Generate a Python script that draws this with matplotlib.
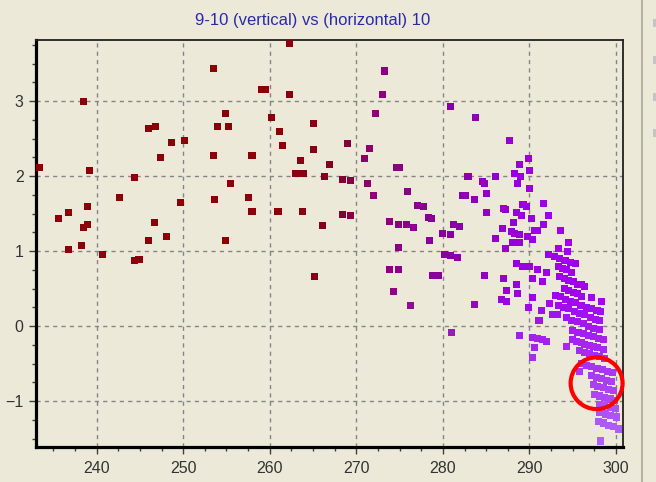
import matplotlib
matplotlib.use("Agg")
import matplotlib.pyplot as plt
from matplotlib.patches import Ellipse, Rectangle
from matplotlib.lines import Line2D
from matplotlib.ticker import MultipleLocator
import numpy as np

plt.rcParams['font.family'] = ['Liberation Sans', 'DejaVu Sans']
plt.rcParams['lines.scale_dashes'] = False

# dark red cluster (left part)
red_x = [233.45, 238.45, 239.15, 235.6, 236.8, 239.0, 238.45, 239.0, 238.3, 236.8,
         240.65, 244.35, 244.9, 244.35, 242.6, 246.0, 246.8, 248.6, 247.4, 250.2,
         249.65, 246.65, 248.1, 245.95, 253.45, 253.45, 253.65, 254.0, 255.25, 254.9,
         262.32, 259.0, 259.5, 262.3, 260.25, 261.1, 261.5, 265.05, 257.95, 265.05,
         263.6, 266.85, 262.95, 263.45, 263.9, 266.3, 268.4, 269.35, 255.45, 257.55,
         257.95, 260.95, 263.8, 266.1, 268.4, 269.35, 254.9, 265.2]
red_y = [2.12, 2.99, 2.07, 1.44, 1.51, 1.59, 1.32, 1.35, 1.07, 1.02,
         0.95, 0.87, 0.89, 1.98, 1.71, 2.64, 2.66, 2.45, 2.25, 2.47,
         1.65, 1.38, 1.20, 1.14, 3.43, 2.27, 1.69, 2.66, 2.66, 2.84,
         3.77, 3.15, 3.15, 3.09, 2.78, 2.60, 2.41, 2.70, 2.27, 2.35,
         2.21, 2.16, 2.04, 2.04, 2.04, 2.00, 1.96, 1.94, 1.90, 1.71,
         1.53, 1.53, 1.53, 1.34, 1.49, 1.47, 1.14, 0.66]

# magenta cluster (middle)
mag_x = [273.3, 273.05, 272.2, 269.0, 271.5, 270.95, 274.7, 275.0, 271.3, 272.0,
         275.95, 277.1, 277.8, 273.8, 274.85, 275.75, 276.6, 274.85, 273.8, 274.9,
         274.3, 276.3, 278.3, 278.7, 278.4, 279.9, 280.9, 281.25, 281.95, 280.91,
         280.2, 280.9, 281.65, 278.85, 279.45, 280.95]
mag_y = [3.40, 3.09, 2.83, 2.43, 2.37, 2.23, 2.12, 2.12, 1.90, 1.74,
         1.79, 1.61, 1.59, 1.39, 1.36, 1.35, 1.32, 1.05, 0.76, 0.76,
         0.46, 0.27, 1.45, 1.43, 1.14, 1.24, 1.22, 1.35, 1.33, 2.93,
         0.95, 0.94, 0.91, 0.68, 0.68, -0.08]

# violet cluster (right, upper)
vio_x = [283.8, 287.7, 289.85, 288.8, 290.05, 288.3, 288.95, 288.6, 290.05, 282.9,
         284.55, 284.85, 286.1, 285.05, 282.3, 282.6, 283.6, 285.05, 287.0, 287.25,
         288.45, 289.1, 289.25, 289.65, 290.2, 288.2, 291.65, 292.2, 291.65, 286.85,
         286.1, 287.9, 288.3, 288.8, 288.05, 288.8, 289.8, 290.35, 290.6, 290.95,
         293.6, 294.5, 293.3, 287.2, 294.35,
         292.2, 292.9, 293.5, 294.1, 294.7, 295.3,
         293.3, 293.8, 294.3, 294.9,
         288.55, 289.25, 290.05, 290.95, 291.95, 290.4, 291.5,
         284.85, 287.0, 288.45, 287.35, 288.6, 286.8, 287.35, 283.65,
         290.35, 289.9, 291.4, 291.1, 292.35, 292.7, 293.2,
         293.5, 294.0, 294.5, 295.05, 295.5, 296.0, 296.4,
         294.0, 294.5, 295.05, 295.5, 296.0,
         297.2, 298.3,
         293.05, 293.6, 294.2, 294.75, 295.35, 295.95, 296.6, 297.2, 297.8, 298.2,
         293.35, 293.9, 294.5, 295.2, 295.8, 296.4, 297.05, 297.65, 298.1,
         294.3, 294.9, 295.5, 296.2, 296.8, 297.4, 298.1,
         288.8, 290.35, 290.9, 291.5, 291.95, 290.6, 290.35, 294.3]
vio_y = [2.78, 2.47, 2.23, 2.15, 2.08, 2.04, 2.00, 1.90, 1.83, 2.00,
         1.93, 1.90, 2.00, 1.77, 1.74, 1.74, 1.69, 1.51, 1.57, 1.55,
         1.51, 1.47, 1.62, 1.59, 1.43, 1.38, 1.63, 1.47, 1.36, 1.30,
         1.17, 1.26, 1.24, 1.22, 1.12, 1.11, 1.19, 1.16, 1.28, 1.27,
         1.28, 1.12, 1.04, 1.03, 0.99,
         0.95, 0.93, 0.90, 0.88, 0.85, 0.83,
         0.79, 0.77, 0.75, 0.72,
         0.83, 0.80, 0.79, 0.75, 0.71, 0.64, 0.60,
         0.68, 0.63, 0.56, 0.47, 0.44, 0.36, 0.33, 0.29,
         0.38, 0.25, 0.21, 0.08, 0.30, 0.15, 0.15,
         0.66, 0.63, 0.61, 0.59, 0.56, 0.55, 0.53,
         0.50, 0.47, 0.45, 0.43, 0.40,
         0.38, 0.33,
         0.41, 0.39, 0.36, 0.33, 0.31, 0.28, 0.25, 0.23, 0.21, 0.19,
         0.28, 0.25, 0.23, 0.20, 0.17, 0.15, 0.12, 0.09, 0.08,
         0.12, 0.08, 0.06, 0.03, 0.00, -0.03, -0.04,
         -0.12, -0.15, -0.17, -0.18, -0.20, -0.28, -0.42, -0.27]

# lower band of light purple rows (bottom right)
band_x = [295.0, 295.6, 296.2, 296.8, 297.4, 298.0, 298.5,
          294.95, 295.4, 296.0, 296.4, 296.9, 297.4, 297.9, 298.5,
          295.8, 296.4, 296.95, 297.55, 298.1, 298.7,
          296.0, 296.6, 297.2, 297.8, 298.4, 299.0, 299.6, 295.8,
          297.15, 297.75, 298.3, 298.9, 299.45,
          297.35, 297.9, 298.5, 299.1, 299.65,
          297.55, 298.1, 298.7, 299.3, 299.85,
          298.05, 298.7, 299.35, 299.95,
          298.1, 298.75, 299.4, 300.0,
          297.95, 298.5, 299.1, 299.7, 300.25,
          298.2]
band_y = [-0.06, -0.08, -0.10, -0.12, -0.14, -0.16, -0.18,
          -0.18, -0.20, -0.22, -0.24, -0.26, -0.27, -0.29, -0.31,
          -0.33, -0.35, -0.37, -0.39, -0.41, -0.43,
          -0.50, -0.52, -0.54, -0.56, -0.58, -0.60, -0.62, -0.61,
          -0.66, -0.68, -0.70, -0.72, -0.74,
          -0.78, -0.80, -0.82, -0.84, -0.86,
          -0.91, -0.93, -0.95, -0.97, -0.99,
          -1.04, -1.06, -1.08, -1.10,
          -1.15, -1.17, -1.19, -1.21,
          -1.27, -1.29, -1.32, -1.34, -1.37,
          -1.53]

x = np.array(red_x + mag_x + vio_x + band_x)
y = np.array(red_y + mag_y + vio_y + band_y)

# colour drifts from dark red to violet with x, and gets lighter lower down
anchor_x = [262, 268, 272, 280, 287, 293]
anchor_r = [140, 130, 145, 135, 150, 160]
anchor_b = [10, 40, 120, 155, 210, 238]
r = np.interp(x, anchor_x, anchor_r)
g = np.zeros_like(x)
b = np.interp(x, anchor_x, anchor_b)
light = np.clip((0.5 - y) / 1.9, 0, 1) * 0.85
r = r + (178 - r) * light
g = g + (110 - g) * light
b = b + (250 - b) * light
colors = np.stack([r, g, b], axis=1) / 255.0

bg = '#ECE9D8'
fig = plt.figure(figsize=(6.56, 4.82), dpi=100, facecolor=bg)
ax = fig.add_axes([36/656, 1 - 447/482, (623 - 36)/656, (447 - 39.5)/482])
ax.set_facecolor(bg)

ax.scatter(x, y, s=26, marker='s', c=colors, linewidths=0, zorder=3)

ax.set_xlim(233.0, 300.8)
ax.set_ylim(-1.61, 3.82)
ax.xaxis.set_major_locator(MultipleLocator(10))
ax.xaxis.set_minor_locator(MultipleLocator(2.5))
ax.yaxis.set_major_locator(MultipleLocator(1))
ax.yaxis.set_minor_locator(MultipleLocator(0.25))
ax.set_axisbelow(True)
ax.grid(True, which='major', color='#858585', linestyle=(0, (3, 3)), linewidth=1.0)

for side in ['left', 'bottom']:
    ax.spines[side].set_linewidth(2.3)
    ax.spines[side].set_color('black')
for side in ['top', 'right']:
    ax.spines[side].set_linewidth(1.3)
    ax.spines[side].set_color('#202020')

ax.tick_params(which='major', direction='out', length=5, width=1, color='#404040',
               labelsize=11.5, labelcolor='#333333', pad=4)
ax.tick_params(which='minor', direction='out', length=3, width=1, color='#404040')
ax.tick_params(axis='x', which='major', pad=5)

# title sits a little left of the plot centre
fig.text(313/656, 1 - 20/482, '9-10 (vertical) vs (horizontal) 10', ha='center', va='center',
         fontsize=12, color='#2a2aa8')

# red circle marking the region of interest
ax.add_patch(Ellipse((297.75, -0.76), 6.0, 0.69, fill=False, edgecolor='#ff0000',
                     linewidth=3.0, zorder=5, clip_on=False))

# side panel divider and cut-off legend marks
fig.add_artist(Line2D([642/656, 642/656], [0, 1], color='#aaa89a', linewidth=1.2))
for yy in [23, 60, 97, 133]:
    fig.add_artist(Rectangle((653/656, 1 - (yy + 4)/482), 3/656, 8/482,
                             facecolor='#c4c4c4', edgecolor='none'))

fig.savefig('out.png', dpi=100, facecolor=bg)
